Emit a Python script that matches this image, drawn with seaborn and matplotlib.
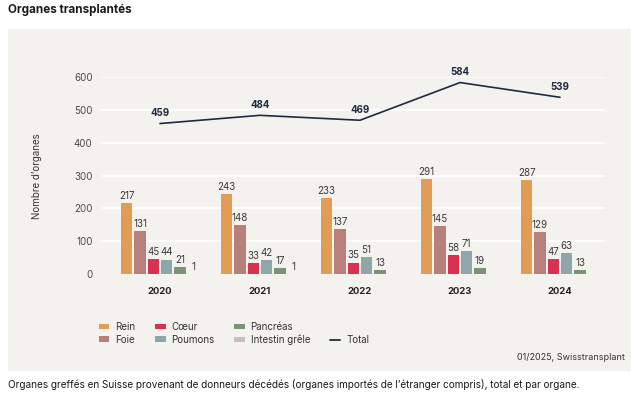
import numpy as np
import pandas as pd
import matplotlib
matplotlib.use("Agg")
import matplotlib.pyplot as plt
from matplotlib.patches import Rectangle, Patch
from matplotlib.lines import Line2D
import seaborn as sns

years = ["2020", "2021", "2022", "2023", "2024"]
organs = ["Rein", "Foie", "Cœur", "Poumons", "Pancréas", "Intestin grêle"]
rein = [217, 243, 233, 291, 287]
foie = [131, 148, 137, 145, 129]
coeur = [45, 33, 35, 58, 47]
poumons = [44, 42, 51, 71, 63]
pancreas = [21, 17, 13, 19, 13]
intestin = [1, 1, 0, 0, 0]
total = [459, 484, 469, 584, 539]
colors = ["#e19c55", "#b7807a", "#d93251", "#8fa6a9", "#7b9279", "#cdbcb9"]
total_color = "#1e2b3e"
bg = "#f4f2ee"

values = [rein, foie, coeur, poumons, pancreas, intestin]
rows = []
for organ, vals in zip(organs, values):
    for y, v in zip(years, vals):
        rows.append({"year": y, "organ": organ, "value": v})
df = pd.DataFrame(rows)

sns.set_theme(style="white")
plt.rcParams["font.family"] = ["Inter", "DejaVu Sans"]

fig = plt.figure(figsize=(6.4, 3.96), dpi=100)
fig.patch.set_facecolor("white")
# beige panel
fig.patches.append(Rectangle((8 / 640, 1 - 371 / 396), (631 - 8) / 640, (371 - 29) / 396,
                             transform=fig.transFigure, facecolor=bg, edgecolor="none", zorder=-5))

ax = fig.add_axes([101 / 640, 1 - 274 / 396, (605 - 101) / 640, (274 - 77.3) / 396])
ax.set_zorder(2)
ax.patch.set_alpha(0)

pal = dict(zip(organs, colors))
sns.barplot(data=df, x="year", y="value", hue="organ", hue_order=organs, order=years,
            palette=pal, saturation=1, width=0.8, gap=0.17, errorbar=None, linewidth=0,
            ax=ax, legend=False, zorder=3)

for cont, vals in zip(ax.containers, values):
    labels = [str(v) if v > 0 else "" for v in vals]
    ax.bar_label(cont, labels=labels, padding=1.5, fontsize=7, color="#3a3a3a")

xs = np.arange(len(years))
sns.lineplot(x=xs, y=total, color=total_color, linewidth=1.2, ax=ax, zorder=4)
for x, t in zip(xs, total):
    ax.annotate(str(t), (x, t), xytext=(0, 4), textcoords="offset points",
                ha="center", va="bottom", fontsize=7, fontweight="bold", color=total_color)

ax.set_xlim(-0.59, 4.45)
ax.set_ylim(0, 600)
ax.set_yticks(range(0, 601, 100))
ax.yaxis.grid(True, color="white", linewidth=1.2, zorder=0)
ax.set_axisbelow(True)
ax.axhline(0, color="#d6d3cd", linewidth=1, zorder=2)
for s in ax.spines.values():
    s.set_visible(False)
ax.tick_params(axis="y", length=0, labelsize=7, labelcolor="#4a4a4a", pad=6)
ax.tick_params(axis="x", length=0, labelsize=6.8, labelcolor="#222222", pad=9)
for lab in ax.get_xticklabels():
    lab.set_fontweight("bold")
ax.set_xlabel("")
ax.set_ylabel("Nombre d’organes", fontsize=7, color="#333333", labelpad=23)

handles = [Patch(facecolor=c, edgecolor="none") for c in colors]
handles.insert(6, Patch(facecolor="none", edgecolor="none"))
handles.append(Line2D([], [], color=total_color, linewidth=1.3))
labels = organs[:6] + [""] + ["Total"]
leg = fig.legend(handles, labels, ncol=4, loc="upper left",
                 bbox_to_anchor=(90 / 640, 1 - 313 / 396), frameon=False,
                 fontsize=7, handlelength=1.1, handleheight=0.5, handletextpad=0.6,
                 columnspacing=2.0, labelspacing=0.3, labelcolor="#333333")

fig.text(8 / 640, 1 - 10 / 396, "Organes transplantés", fontsize=8.4, fontweight="bold",
         color="#1a1a1a", ha="left", va="center")
fig.text(625 / 640, 1 - 358 / 396, "01/2025, Swisstransplant", fontsize=6.5, color="#333333",
         ha="right", va="center")
fig.text(8 / 640, 1 - 385 / 396,
         "Organes greffés en Suisse provenant de donneurs décédés (organes importés de l’étranger compris), total et par organe.",
         fontsize=7.2, color="#1a1a1a", ha="left", va="center")

fig.savefig("out.png", dpi=100, facecolor="white")
